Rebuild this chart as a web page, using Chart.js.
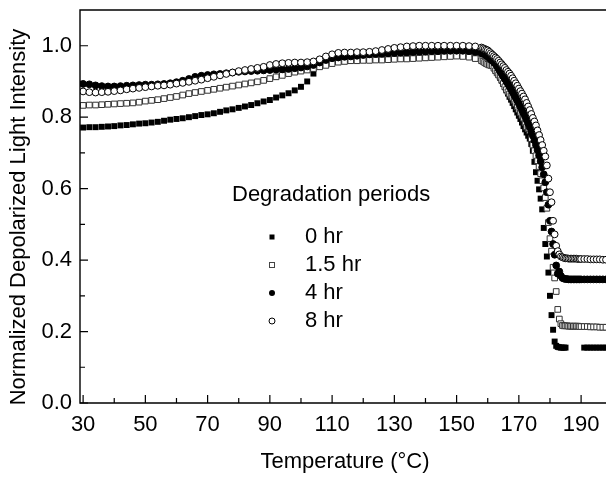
<!DOCTYPE html>
<html>
<head>
<meta charset="utf-8">
<script src="https://cdn.jsdelivr.net/npm/chart.js@4.4.0/dist/chart.umd.min.js"></script>
<style>
  html, body { margin: 0; padding: 0; background: #fff; }
  canvas { display: block; }
</style>
</head>
<body>
<canvas id="c" width="606" height="477"></canvas>
<script>
// ---- data ----
const temps = [
  30,32,34,36,38,40,42,44,46,48,
  50,52,54,56,58,60,62,64,66,68,
  70,72,74,76,78,80,82,84,86,88,
  90,92,94,96,98,100,102,104,106,108,
  110,112,114,116,118,120,122,124,126,128,
  130,132,134,136,138,140,142,144,146,148,
  150,152,154,156,158,
  158.5,159,159.5,160,160.5,161,161.5,162,162.5,163,
  163.5,164,164.5,165,165.5,166,166.5,167,167.5,168,
  168.5,169,169.5,170,170.5,171,171.5,172,172.5,173,
  173.5,174,174.5,175,175.5,176,176.5,177,177.5,178,
  178.5,179,179.5,180,180.5,181,181.5,182,182.5,183,
  183.5,184,184.5,185,185.5,186,186.5,187,187.5,188,
  188.5,189,189.5,190,
  191,192,193,194,195,196,197,198
];

const hr0 = [
  0.771,0.772,0.772,0.773,0.774,0.775,0.777,0.778,0.780,0.782,
  0.783,0.785,0.787,0.790,0.793,0.795,0.797,0.800,0.803,0.806,
  0.808,0.811,0.815,0.819,0.822,0.826,0.830,0.834,0.839,0.844,
  0.848,0.855,0.861,0.867,0.875,0.885,0.900,0.922,0.943,0.957,
  0.962,0.964,0.965,0.966,0.966,0.967,0.967,0.968,0.969,0.970,
  0.970,0.971,0.972,0.972,0.973,0.973,0.974,0.974,0.975,0.975,
  0.976,0.976,0.977,0.977,0.978,
  0.978,0.977,0.975,0.972,0.966,0.958,0.950,0.942,0.934,0.926,
  0.918,0.910,0.902,0.893,0.884,0.875,0.866,0.857,0.849,0.840,
  0.831,0.822,0.813,0.804,0.795,0.785,0.775,0.766,0.757,0.748,
  0.740,0.725,0.706,0.675,0.646,0.622,0.598,0.572,0.542,0.490,
  0.445,0.410,0.365,0.300,0.246,0.205,0.172,0.160,0.157,0.156,
  0.155,0.155,0.155,0.155,null,null,null,null,null,null,
  null,null,null,null,
  0.155,0.155,0.155,0.155,0.155,0.155,0.155,0.155
];

const hr1_5 = [
  0.833,0.834,0.834,0.835,0.836,0.837,0.838,0.839,0.840,0.842,
  0.845,0.847,0.849,0.852,0.855,0.858,0.862,0.866,0.869,0.872,
  0.875,0.878,0.881,0.884,0.887,0.890,0.893,0.896,0.899,0.903,
  0.908,0.913,0.917,0.922,0.926,0.929,0.932,0.936,0.941,0.945,
  0.950,0.954,0.956,0.958,0.958,0.959,0.959,0.960,0.960,0.961,
  0.962,0.963,0.963,0.964,0.965,0.966,0.967,0.968,0.969,0.970,
  0.971,0.970,0.968,0.964,0.958,
  0.956,0.953,0.950,0.948,0.946,0.945,0.944,0.937,0.930,0.924,
  0.918,0.912,0.904,0.894,0.885,0.877,0.871,0.865,0.860,0.855,
  0.847,0.838,0.829,0.821,0.813,0.805,0.797,0.785,0.773,0.768,
  0.762,0.740,0.722,0.706,0.692,0.678,0.662,0.642,0.622,0.602,
  0.575,0.545,0.505,0.460,0.425,0.380,0.350,0.312,0.262,0.235,
  0.222,0.217,0.216,0.216,0.216,0.215,0.215,0.215,0.215,0.215,
  0.215,0.215,0.214,0.214,
  0.214,0.214,0.213,0.213,0.213,0.212,0.212,0.212
];

const hr4 = [
  0.893,0.892,0.889,0.887,0.886,0.886,0.887,0.888,0.889,0.890,
  0.891,0.891,0.892,0.893,0.895,0.898,0.902,0.907,0.913,0.916,
  0.918,0.920,0.921,0.923,0.925,0.927,0.928,0.929,0.930,0.931,
  0.932,0.933,0.934,0.935,0.937,0.939,0.942,0.946,0.953,0.960,
  0.965,0.967,0.969,0.970,0.972,0.974,0.976,0.977,0.978,0.979,
  0.980,0.981,0.982,0.983,0.984,0.984,0.985,0.985,0.986,0.986,
  0.986,0.986,0.985,0.983,0.979,
  0.978,0.976,0.973,0.970,0.966,0.962,0.958,0.953,0.949,0.942,
  0.935,0.928,0.921,0.914,0.907,0.900,0.893,0.886,0.878,0.870,
  0.862,0.854,0.846,0.838,0.829,0.820,0.811,0.802,0.792,0.782,
  0.772,0.760,0.748,0.735,0.722,0.708,0.693,0.677,0.660,0.640,
  0.618,0.590,0.555,0.510,0.480,0.445,0.415,0.385,0.362,0.368,
  0.356,0.350,0.348,0.347,0.347,0.346,0.346,0.346,0.346,0.346,
  0.346,0.346,0.346,0.346,
  0.346,0.346,0.346,0.346,0.346,0.346,0.346,0.346
];

const hr8 = [
  0.872,0.870,0.869,0.870,0.871,0.873,0.875,0.878,0.880,0.882,
  0.884,0.886,0.888,0.889,0.891,0.894,0.896,0.899,0.902,0.905,
  0.909,0.913,0.917,0.921,0.925,0.929,0.932,0.935,0.938,0.941,
  0.946,0.949,0.951,0.952,0.953,0.953,0.954,0.956,0.962,0.970,
  0.976,0.980,0.981,0.981,0.982,0.982,0.983,0.985,0.988,0.991,
  0.994,0.996,0.998,0.999,1.000,1.000,1.000,1.000,1.000,1.000,
  1.000,1.000,0.999,0.998,0.995,
  0.993,0.991,0.989,0.987,0.983,0.979,0.975,0.971,0.967,0.963,
  0.958,0.953,0.948,0.943,0.938,0.932,0.927,0.922,0.916,0.909,
  0.902,0.895,0.888,0.880,0.873,0.866,0.858,0.850,0.840,0.830,
  0.820,0.809,0.798,0.788,0.777,0.763,0.750,0.736,0.722,0.706,
  0.690,0.665,0.628,0.590,0.562,0.510,0.472,0.440,0.425,0.416,
  0.410,0.408,0.406,0.405,0.405,0.404,0.404,0.404,0.404,0.404,
  0.404,0.403,0.403,0.403,
  0.403,0.403,0.402,0.402,0.402,0.402,0.401,0.401
];

const seriesNames = ["0 hr", "1.5 hr", "4 hr", "8 hr"];
const legendTitle = "Degradation periods";
const xTickLabels = [30, 50, 70, 90, 110, 130, 150, 170, 190];
const yTickLabels = [0.0, 0.2, 0.4, 0.6, 0.8, 1.0];
const xMinorTicks = [40, 60, 80, 100, 120, 140, 160, 180];
const yMinorTicks = [0.1, 0.3, 0.5, 0.7, 0.9];
const xTitle = "Temperature (\u00B0C)";
const yTitle = "Normalized Depolarized Light Intensity";

// ---- build ----
const FONT = "'Liberation Sans', Arial, sans-serif";
function pts(vals) {
  return temps.map((t, i) => ({ x: t, y: vals[i] }));
}

const styles = [
  { pointStyle: 'rect',   pointRadius: 4.2, backgroundColor: '#000', borderColor: '#000', borderWidth: 0, order: 3 },
  { pointStyle: 'rect',   pointRadius: 4.0, backgroundColor: '#fff', borderColor: '#333', borderWidth: 1, order: 2 },
  { pointStyle: 'circle', pointRadius: 3.4, backgroundColor: '#000', borderColor: '#000', borderWidth: 1, order: 1 },
  { pointStyle: 'circle', pointRadius: 3.4, backgroundColor: '#fff', borderColor: '#000', borderWidth: 1, order: 0 }
];
const allSeries = [hr0, hr1_5, hr4, hr8];

const datasets = allSeries.map((vals, i) => ({
  label: seriesNames[i],
  data: pts(vals),
  showLine: false,
  pointStyle: styles[i].pointStyle,
  pointRadius: styles[i].pointRadius,
  pointHoverRadius: styles[i].pointRadius,
  pointBackgroundColor: styles[i].backgroundColor,
  pointBorderColor: styles[i].borderColor,
  pointBorderWidth: styles[i].borderWidth,
  order: styles[i].order
}));

function noPad(s) {
  s.paddingTop = 0; s.paddingBottom = 0; s.paddingLeft = 0; s.paddingRight = 0;
}

const framePlugin = {
  id: 'frame',
  afterDraw(chart) {
    const ctx = chart.ctx;
    const a = chart.chartArea;
    const xs = chart.scales.x, ys = chart.scales.y;
    ctx.save();
    ctx.strokeStyle = '#000';
    ctx.lineWidth = 1.4;
    ctx.beginPath();
    ctx.moveTo(a.right + 2, a.top);
    ctx.lineTo(a.left, a.top);
    ctx.lineTo(a.left, a.bottom);
    ctx.lineTo(a.right + 2, a.bottom);
    ctx.stroke();
    ctx.lineWidth = 1.2;
    ctx.beginPath();
    xTickLabels.forEach(v => { const p = xs.getPixelForValue(v); ctx.moveTo(p, a.bottom); ctx.lineTo(p, a.bottom - 8); });
    xMinorTicks.forEach(v => { const p = xs.getPixelForValue(v); ctx.moveTo(p, a.bottom); ctx.lineTo(p, a.bottom - 5); });
    yTickLabels.forEach(v => { const p = ys.getPixelForValue(v); ctx.moveTo(a.left, p); ctx.lineTo(a.left + 8, p); });
    yMinorTicks.forEach(v => { const p = ys.getPixelForValue(v); ctx.moveTo(a.left, p); ctx.lineTo(a.left + 5, p); });
    ctx.stroke();

    // axis titles
    ctx.fillStyle = '#000';
    ctx.font = '22px ' + FONT;
    ctx.textAlign = 'center';
    ctx.textBaseline = 'middle';
    ctx.fillText(xTitle, 345, 462);
    ctx.save();
    ctx.translate(19, 217);
    ctx.rotate(-Math.PI / 2);
    ctx.fillText(yTitle, 0, 0);
    ctx.restore();

    // legend
    ctx.textAlign = 'left';
    ctx.fillText(legendTitle, 232, 195);
    const rows = [237, 265, 293, 321];
    rows.forEach((y, i) => {
      const mx = 272;
      ctx.fillStyle = '#000';
      ctx.fillText(seriesNames[i], 305, y);
      ctx.lineWidth = 1;
      if (i === 0) {
        ctx.fillRect(mx - 2.5, y - 2.5, 5, 5);
      } else if (i === 1) {
        ctx.fillStyle = '#fff';
        ctx.fillRect(mx - 2.5, y - 2.5, 5, 5);
        ctx.strokeStyle = '#444';
        ctx.strokeRect(mx - 2.5, y - 2.5, 5, 5);
      } else if (i === 2) {
        ctx.beginPath(); ctx.arc(mx, y, 3, 0, Math.PI * 2); ctx.fill();
      } else {
        ctx.fillStyle = '#fff';
        ctx.beginPath(); ctx.arc(mx, y, 3, 0, Math.PI * 2); ctx.fill();
        ctx.strokeStyle = '#000'; ctx.stroke();
      }
    });
    ctx.restore();
  }
};

new Chart(document.getElementById('c'), {
  type: 'scatter',
  data: { datasets },
  plugins: [framePlugin],
  options: {
    responsive: false,
    animation: false,
    devicePixelRatio: 1,
    layout: { autoPadding: false, padding: { top: 10, right: 0, bottom: 0, left: 0 } },
    plugins: { legend: { display: false }, tooltip: { enabled: false } },
    scales: {
      x: {
        type: 'linear', min: 29, max: 198,
        grid: { display: false, drawTicks: false },
        border: { display: false },
        afterBuildTicks: s => { s.ticks = xTickLabels.map(v => ({ value: v })); },
        afterFit: s => { s.height = 74; noPad(s); },
        ticks: { font: { family: FONT, size: 22 }, color: '#000', padding: 9, maxRotation: 0, autoSkip: false,
                 callback: v => String(v) }
      },
      y: {
        type: 'linear', min: 0, max: 1.1,
        grid: { display: false, drawTicks: false },
        border: { display: false },
        afterBuildTicks: s => { s.ticks = yTickLabels.map(v => ({ value: v })); },
        afterFit: s => { s.width = 80; noPad(s); },
        ticks: { font: { family: FONT, size: 22 }, color: '#000', padding: 8, autoSkip: false,
                 callback: v => Number(v).toFixed(1) }
      }
    }
  }
});
</script>
</body>
</html>
